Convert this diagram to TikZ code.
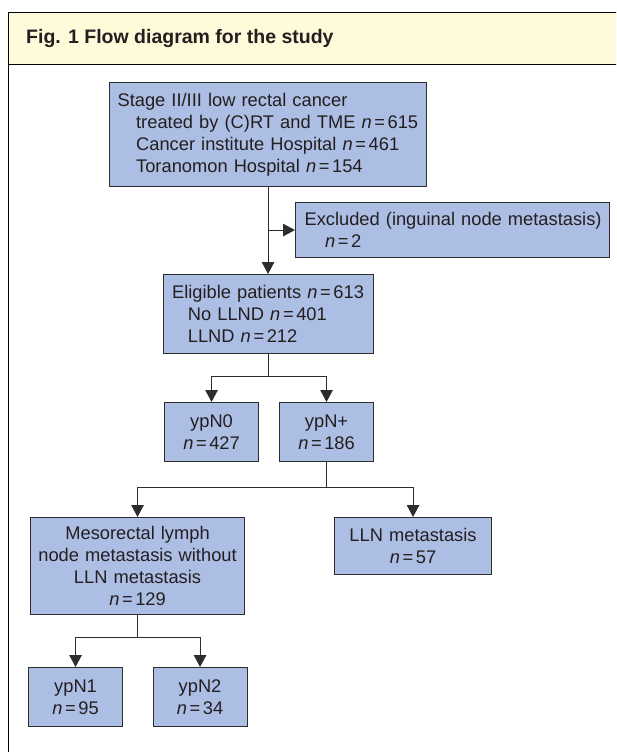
\documentclass[tikz,border=0pt]{standalone}
\usepackage{fontspec}
\setmainfont{Liberation Sans}
\usetikzlibrary{arrows.meta}
\definecolor{boxfill}{RGB}{172,190,227}
\definecolor{hdrfill}{RGB}{255,250,217}
\definecolor{linecol}{RGB}{45,45,45}
\definecolor{txtcol}{RGB}{35,31,32}
\newcommand\Nval[1]{\textit{n}\kern2.6pt=\kern2.6pt#1}
\begin{document}
\begin{tikzpicture}[x=1pt,y=-1pt,
  basebox/.style={draw=linecol, line width=1.1pt, fill=boxfill, inner xsep=0pt, inner ysep=0pt,
    text=txtcol, font=\fontsize{18.3}{22}\selectfont, anchor=north west},
  lbox/.style={basebox, align=left},
  cbox/.style={basebox, align=center},
  link/.style={draw=linecol, line width=1.1pt},
  arr/.style={link, -{Triangle[length=12pt,width=12.5pt]}},
  hdr/.style={fill=hdrfill, draw=none, inner sep=0pt, anchor=north west},
  frame/.style={draw=black, line width=1.2pt},
  title/.style={font=\fontsize{19.5}{22}\selectfont\bfseries, text=txtcol, inner sep=0pt, anchor=base west}
]
\useasboundingbox (0,0) rectangle (616,752);
\fill[white] (0,0) rectangle (616,752);
\begin{scope}
\clip (0,0) rectangle (616,752);
\node[hdr, minimum width=640pt, minimum height=51.5pt] (hdr) at (8.5,12.5) {};
\draw[frame] (hdr.north east) -- (hdr.north west) -- (8.5,760);
\draw[frame] (hdr.south west) -- (hdr.south east);
\end{scope}
\node[title] (ttl) at (26,43.5) {Fig. 1 Flow diagram for the study};

\node[lbox, minimum width=317pt, text width=317pt, minimum height=104pt] (b1) at (109,82)
  {\hspace*{8pt}Stage II/III low rectal cancer\\
   \hspace*{26.6pt}treated by (C)RT and TME \Nval{615}\\
   \hspace*{26.6pt}Cancer institute Hospital \Nval{461}\\
   \hspace*{26.6pt}Toranomon Hospital \Nval{154}};
\node[lbox, minimum width=314pt, text width=314pt, minimum height=55pt] (excl) at (295,202)
  {\hspace*{9pt}Excluded (inguinal node metastasis)\\
   \hspace*{29.5pt}\Nval{2}};
\node[lbox, minimum width=210pt, text width=210pt, minimum height=79pt] (elig) at (163,274)
  {\hspace*{8.5pt}Eligible patients \Nval{613}\\
   \hspace*{24.3pt}No LLND \Nval{401}\\
   \hspace*{24.3pt}LLND \Nval{212}};
\node[cbox, minimum width=94pt, text width=94pt, minimum height=59pt] (ypn0) at (164,402)
  {ypN0\\\Nval{427}};
\node[cbox, minimum width=94pt, text width=94pt, minimum height=59pt] (ypnp) at (279,402)
  {ypN+\\\Nval{186}};
\node[cbox, minimum width=214pt, text width=214pt, minimum height=97pt] (meso) at (30,517)
  {Mesorectal lymph\\node metastasis without\\LLN metastasis\\\Nval{129}};
\node[cbox, minimum width=157pt, text width=157pt, minimum height=57pt] (lln) at (334,517)
  {LLN metastasis\\\Nval{57}};
\node[cbox, minimum width=94pt, text width=94pt, minimum height=59pt] (ypn1) at (28,667)
  {ypN1\\\Nval{95}};
\node[cbox, minimum width=94pt, text width=94pt, minimum height=59pt] (ypn2) at (152.5,667)
  {ypN2\\\Nval{34}};

\draw[arr] (b1.south) -- (b1.south |- elig.north);
\coordinate (j1) at (b1.south |- excl.west);
\draw[arr] (j1) -- (excl.west);

\draw[link] (elig.south) -- ++(0,22) coordinate (j2);
\draw[arr] (j2) -| (ypn0.north);
\draw[arr] (j2) -| (ypnp.north);

\draw[link] (ypnp.south) -- ++(0,25) coordinate (j3);
\draw[arr] (j3) -| (meso.north);
\draw[arr] (j3) -| (lln.north);

\draw[link] (meso.south) -- ++(0,22) coordinate (j4);
\draw[arr] (j4) -| (ypn1.north);
\draw[arr] (j4) -| (ypn2.north);
\end{tikzpicture}
\end{document}
